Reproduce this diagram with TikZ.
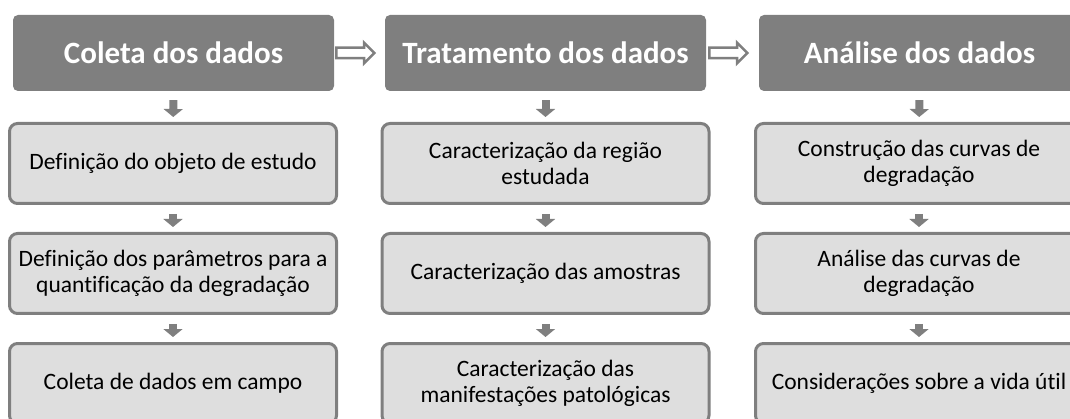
\documentclass[tikz,border=0pt]{standalone}
\usepackage{fontspec}
\setmainfont{Carlito}[Ligatures=NoCommon]
\usepackage{xcolor}
\usetikzlibrary{positioning,arrows.meta,shapes.arrows}
\definecolor{hdgray}{HTML}{7F7F7F}
\definecolor{boxgray}{HTML}{DEDEDE}

\begin{document}
\begin{tikzpicture}[x=1pt,y=-1pt,
    every node/.style={font=\fontsize{23.5}{25.5}\selectfont},
    headbox/.style={rectangle,rounded corners=5pt,fill=hdgray,text=white,
      minimum width=321pt,minimum height=76pt,font=\fontsize{31}{36}\selectfont\bfseries},
    stepbox/.style={rectangle,rounded corners=8pt,draw=hdgray,line width=3pt,fill=boxgray,
      minimum width=327pt,minimum height=80pt,align=center,inner sep=1pt},
    downarr/.style={hdgray,line width=8pt,-{Triangle[width=19pt,length=8pt]},
      shorten <=9pt,shorten >=5pt},
    rightarr/.style={single arrow,draw=hdgray,line width=2.5pt,fill=white,
      minimum height=38pt,inner sep=4pt,single arrow head extend=5pt},
  ]
  \useasboundingbox (0,0) rectangle (1070,419);
  \clip (0,0) rectangle (1070,419);
  % phases
  \foreach \c/\xx/\lab in {1/173.5/Coleta dos dados,2/545.5/Tratamento dos dados,3/919.5/Análise dos dados} {
    \node[headbox] (head\c) at (\xx,53) {\lab};
  }
  \node[rightarr,right=1pt of head1] (arr1) {};
  \node[rightarr,right=2pt of head2] (arr2) {};
  % steps
  \node[stepbox] (box11) at (173,163.5) {Definição do objeto de estudo};
  \node[stepbox] (box12) at (173,273.5) {Definição dos parâmetros para a\\quantificação da degradação};
  \node[stepbox] (box13) at (173,383.5) {Coleta de dados em campo};
  \node[stepbox] (box21) at (545.5,163.5) {Caracterização da região\\estudada};
  \node[stepbox] (box22) at (545.5,273.5) {Caracterização das amostras};
  \node[stepbox] (box23) at (545.5,383.5) {Caracterização das\\manifestações patológicas};
  \node[stepbox] (box31) at (919,163.5) {Construção das curvas de\\degradação};
  \node[stepbox] (box32) at (919,273.5) {Análise das curvas de\\degradação};
  \node[stepbox] (box33) at (919,383.5) {Considerações sobre a vida útil};
  \foreach \c in {1,2,3} {
    \draw[downarr] (head\c) -- (box\c1);
    \draw[downarr] (box\c1) -- (box\c2);
    \draw[downarr] (box\c2) -- (box\c3);
  }
\end{tikzpicture}
\end{document}
